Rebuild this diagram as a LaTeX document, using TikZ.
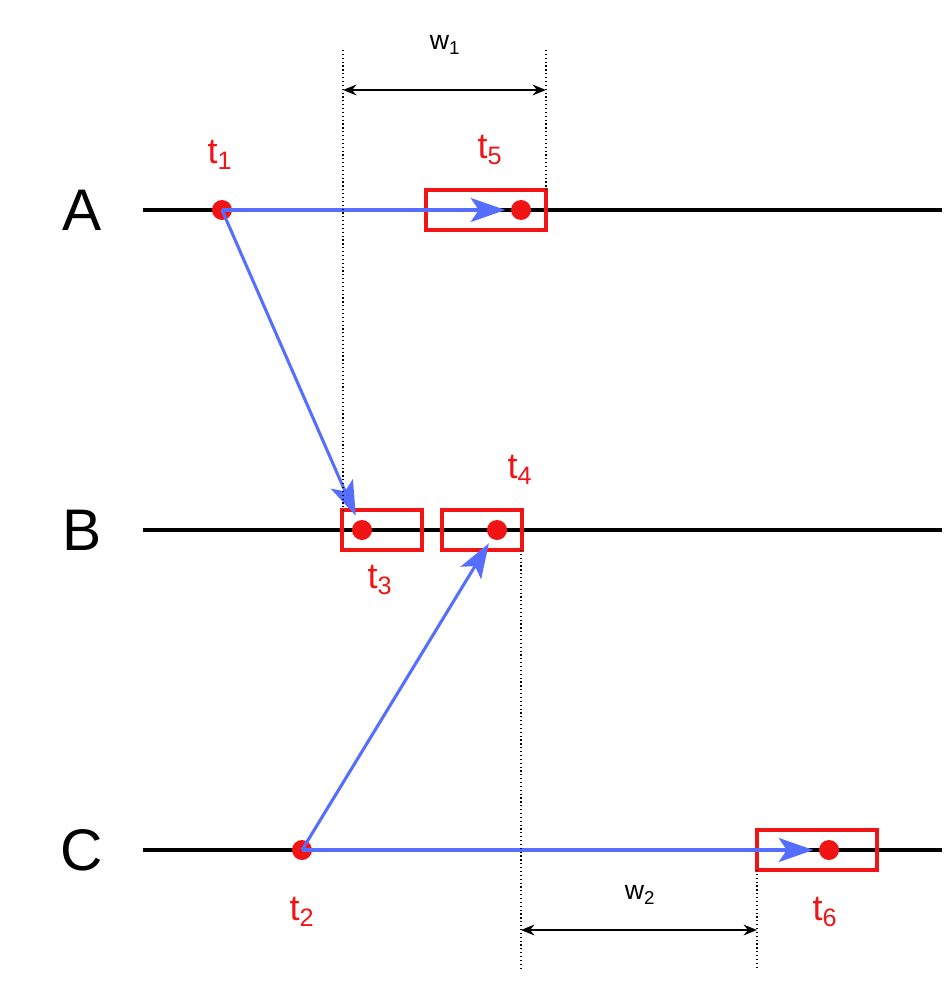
\documentclass[tikz,border=0pt]{standalone}
\usepackage{fontspec}
\setmainfont{Liberation Sans}
\usetikzlibrary{arrows.meta}
\definecolor{myblue}{RGB}{85,110,255}
\definecolor{myred}{RGB}{240,20,20}
\newcommand{\tsb}[1]{\textsubscript{#1}}
\begin{document}
\begin{tikzpicture}[x=0.75pt,y=-0.75pt,
  tl/.style={line width=2.3pt,black},
  dot/.style={circle,fill=myred,inner sep=0pt,minimum size=15pt},
  win/.style={draw=myred,line width=2.3pt,minimum width=90pt,minimum height=30pt,inner sep=0pt},
  swin/.style={draw=myred,line width=2.3pt,minimum width=60pt,minimum height=30pt,inner sep=0pt},
  msg/.style={myblue,line width=2.3pt,-{Stealth[length=26pt,width=18pt,inset=6pt]},shorten >=4pt},
  lab/.style={text=myred,font=\fontsize{27}{27}\selectfont},
  big/.style={font=\fontsize{44}{44}\selectfont},
  dim/.style={line width=1.8pt,{Stealth[length=10pt,width=8pt]}-{Stealth[length=10pt,width=8pt]}},
  dots/.style={dotted,line width=0.9pt}]
\useasboundingbox (0,0) rectangle (948,984);
\node[big] (LA) at (82,210) {A};
\node[big] (LB) at (82,530) {B};
\node[big] (LC) at (82,850) {C};
\coordinate (a0) at (143,210); \coordinate (a1) at (942,210);
\coordinate (b0) at (143,530); \coordinate (b1) at (942,530);
\coordinate (c0) at (143,850); \coordinate (c1) at (942,850);
\draw[tl] (a0)--(a1); \draw[tl] (b0)--(b1); \draw[tl] (c0)--(c1);
\node[win] (w5) at (486,210) {};
\node[swin] (w3) at (382,530) {};
\node[swin] (w4) at (482,530) {};
\node[win] (w6) at (817,850) {};
\node[dot] (t1) at (222,210) {};
\node[dot] (t5) at (521,210) {};
\node[dot] (t3) at (362,530) {};
\node[dot] (t4) at (497,530) {};
\node[dot] (t2) at (302,850) {};
\node[dot] (t6) at (829,850) {};
\draw[msg] (t1.center)--(t5);
\draw[msg] (t1.center)--(t3);
\draw[msg] (t2.center)--(t4);
\draw[msg] (t2.center)--(t6);
\node[lab] (l1) at (220,155) {t\tsb{1}};
\node[lab] (l5) at (490,150) {t\tsb{5}};
\node[lab] (l4) at (520,470) {t\tsb{4}};
\node[lab] (l3) at (380,580) {t\tsb{3}};
\node[lab] (l2) at (302,912) {t\tsb{2}};
\node[lab] (l6) at (825,912) {t\tsb{6}};
\coordinate (d1a) at (343,50); \coordinate (d1b) at (343,512);
\coordinate (d2a) at (546,50); \coordinate (d2b) at (546,192);
\coordinate (d3a) at (521,550); \coordinate (d3b) at (521,970);
\coordinate (d4a) at (757,870); \coordinate (d4b) at (757,970);
\draw[dots] (d1a)--(d1b); \draw[dots] (d2a)--(d2b);
\draw[dots] (d3a)--(d3b); \draw[dots] (d4a)--(d4b);
\coordinate (e1) at (343,90); \coordinate (e2) at (546,90);
\coordinate (e3) at (521,930); \coordinate (e4) at (757,930);
\draw[dim] (e1)--(e2); \draw[dim] (e3)--(e4);
\node[font=\fontsize{20}{20}\selectfont] (W1) at (445,45) {w\tsb{1}};
\node[font=\fontsize{20}{20}\selectfont] (W2) at (640,895) {w\tsb{2}};
\end{tikzpicture}
\end{document}
